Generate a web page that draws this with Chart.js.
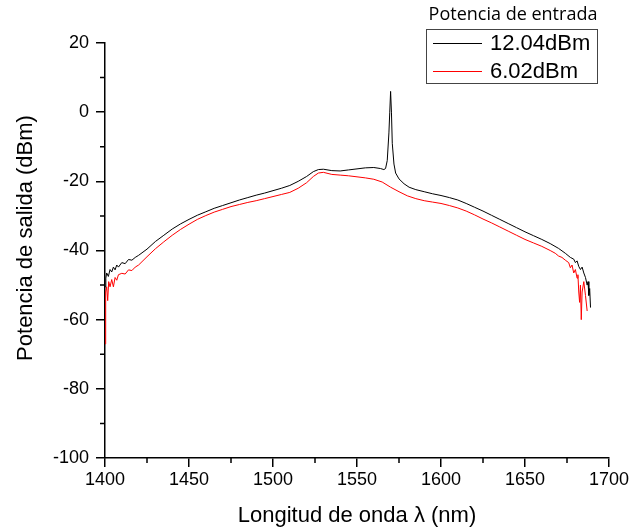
<!DOCTYPE html>
<html>
<head>
<meta charset="utf-8">
<script src="https://cdn.jsdelivr.net/npm/chart.js@4"></script>
<style>
  body { margin: 0; background: #fff; }
  #grafico { display: block; }
</style>
</head>
<body>
<canvas id="grafico" width="633" height="530"></canvas>
<script>
// ===============================
// Datos: espectro de salida
// ===============================
const etiquetas = ['12.04dBm', '6.02dBm'];
const colores = ['#000000', '#ff0000'];

const lambdaNegro = [
  1400, 1400.5, 1401, 1402, 1403, 1404, 1405, 1406, 1407, 1408, 1410, 1412, 1414, 1416, 1418, 1420,
  1425, 1430, 1435, 1440, 1445, 1450, 1455, 1460, 1465, 1470, 1475, 1480, 1485, 1490, 1495, 1500,
  1505, 1510, 1515, 1520, 1524, 1527, 1530, 1535, 1540, 1545, 1550, 1555, 1560, 1564, 1566, 1567,
  1568, 1569, 1569.5, 1570, 1570.5, 1571, 1572, 1573, 1575, 1578, 1581, 1585, 1590, 1595, 1600,
  1605, 1610, 1615, 1620, 1625, 1630, 1635, 1640, 1645, 1650, 1655, 1660, 1665, 1670, 1674, 1677,
  1679, 1680, 1681, 1682, 1683, 1684, 1685, 1686, 1687, 1687.5, 1688, 1688.5, 1689
];
const potNegro = [
  -50.5, -48, -46.5, -47.5, -45.5, -46.2, -44.8, -45.6, -44.2, -44.8, -43.5, -43.8, -42.6, -42.8, -42, -41.4,
  -39.6, -37.4, -35.6, -33.8, -32.3, -31, -29.8, -28.8, -27.8, -27, -26.2, -25.4, -24.7, -24, -23.4, -22.7,
  -22, -21.2, -20, -18.6, -17.2, -16.6, -16.5, -16.9, -17, -16.7, -16.4, -16.1, -16, -16.3, -16.6, -16.3,
  -14, -6, 0, 6, 0, -9, -15, -17.6, -19.3, -20.7, -21.7, -22.4, -23, -23.6, -24.1,
  -24.7, -25.4, -26.4, -27.5, -28.6, -29.8, -31, -32.2, -33.4, -34.6, -35.7, -36.8, -38, -39.4, -40.8, -42,
  -42.5, -43.5, -43, -44.6, -45.5, -44.8, -46.5, -47.8, -50, -49, -53, -51, -56.5
];

const lambdaRojo = [
  1400, 1400.4, 1401, 1401.6, 1402.2, 1403, 1404, 1405, 1406, 1407, 1408, 1410, 1412, 1414, 1416, 1418,
  1420, 1425, 1430, 1435, 1440, 1445, 1450, 1455, 1460, 1465, 1470, 1475, 1480, 1485, 1490, 1495,
  1500, 1505, 1510, 1515, 1520, 1524, 1527, 1530, 1535, 1540, 1545, 1550, 1555, 1560, 1565, 1570,
  1575, 1580, 1585, 1590, 1595, 1600, 1605, 1610, 1615, 1620, 1625, 1630, 1635, 1640, 1645, 1650,
  1655, 1660, 1665, 1668, 1670, 1672, 1674, 1676, 1677, 1678, 1679, 1680, 1681, 1681.5, 1682, 1682.5,
  1683, 1683.5, 1684, 1685, 1686, 1687
];
const potRojo = [
  -67, -52, -50.5, -54.5, -49, -50.5, -48.4, -50.5, -47.8, -48.6, -47, -46.6, -46.8, -45.6, -45.8, -44.8,
  -44.2, -41.8, -39.5, -37.5, -35.6, -33.9, -32.4, -31, -29.9, -28.9, -28.1, -27.3, -26.7, -26.1, -25.6, -25,
  -24.4, -23.8, -23.2, -22, -20.4, -18.6, -17.6, -17.4, -18, -18.2, -18.4, -18.7, -19, -19.4, -20.2, -21.7,
  -23, -24.2, -25, -25.6, -26, -26.4, -27, -27.7, -28.6, -29.7, -30.9, -32, -33.2, -34.4, -35.6, -36.8,
  -37.8, -38.8, -40, -40.8, -41.6, -42, -42.8, -43.5, -45, -44.2, -46.5, -45.5, -48, -47, -52, -55,
  -50, -60, -52, -49, -53, -57.5
];

const xMin = 1400, xMax = 1700;
const yMin = -100, yMax = 20;
const tituloY = 'Potencia de salida (dBm)';
const tituloLeyenda = 'Potencia de entrada';

function puntos(xs, ys) {
  return xs.map((x, i) => ({ x: x, y: ys[i] }));
}

// ===============================
// Plugin: ticks menores, titulo Y y leyenda con marco
// ===============================
const extras = {
  id: 'extras',
  beforeDraw(chart) {
    const c = chart.ctx;
    c.save();
    c.fillStyle = '#fff';
    c.fillRect(0, 0, chart.width, chart.height);
    c.restore();
  },
  afterDraw(chart) {
    const c = chart.ctx;
    const sx = chart.scales.x, sy = chart.scales.y;
    c.save();
    c.strokeStyle = '#000';
    c.lineWidth = 1.5;
    c.beginPath();
    sx.ticks.forEach(t => {
      if (t.value % 50 !== 0) {
        const px = sx.getPixelForValue(t.value);
        c.moveTo(px, sx.top);
        c.lineTo(px, sx.top + 5);
      }
    });
    sy.ticks.forEach(t => {
      if (t.value % 20 !== 0) {
        const py = sy.getPixelForValue(t.value);
        c.moveTo(sy.right, py);
        c.lineTo(sy.right - 5, py);
      }
    });
    c.stroke();

    // titulo del eje Y
    c.save();
    c.translate(26, 238);
    c.rotate(-Math.PI / 2);
    c.fillStyle = '#000';
    c.font = '22px "Liberation Sans"';
    c.textAlign = 'center';
    c.textBaseline = 'middle';
    c.fillText(tituloY, 0, 0);
    c.restore();

    // leyenda
    c.fillStyle = '#000';
    c.font = '18px "Open Sans"';
    c.textAlign = 'center';
    c.textBaseline = 'middle';
    c.fillText(tituloLeyenda, 513, 15);
    c.strokeStyle = '#444';
    c.lineWidth = 1;
    c.strokeRect(426.5, 29.5, 171, 54);
    c.textAlign = 'left';
    c.font = '22px "Liberation Sans"';
    chart.data.datasets.forEach((ds, i) => {
      const y = 43 + i * 28;
      c.strokeStyle = ds.borderColor;
      c.beginPath();
      c.moveTo(433, y + 0.5);
      c.lineTo(482, y + 0.5);
      c.stroke();
      c.fillStyle = '#000';
      c.fillText(ds.label, 490, y + 1);
    });
    c.restore();
  }
};

new Chart(document.getElementById('grafico'), {
  type: 'line',
  data: {
    datasets: [
      { label: etiquetas[0], data: puntos(lambdaNegro, potNegro), borderColor: colores[0], borderWidth: 1, pointRadius: 0, tension: 0 },
      { label: etiquetas[1], data: puntos(lambdaRojo, potRojo), borderColor: colores[1], borderWidth: 1, pointRadius: 0, tension: 0 }
    ]
  },
  options: {
    responsive: false,
    animation: false,
    events: [],
    layout: { padding: { top: 43, right: 24, left: 0, bottom: 0 } },
    plugins: { legend: { display: false }, tooltip: { enabled: false } },
    scales: {
      x: {
        type: 'linear',
        min: xMin, max: xMax,
        afterFit(s) { s.height = 72; },
        border: { color: '#000', width: 1.5 },
        grid: {
          drawOnChartArea: false, tickLength: 9, lineWidth: 1.5,
          tickColor: ctx => (ctx.tick && ctx.tick.value % 50 === 0) ? '#000' : 'transparent'
        },
        ticks: {
          stepSize: 25, padding: 2, color: '#000', maxRotation: 0, autoSkip: false,
          font: { family: '"Liberation Sans", Arial', size: 18 },
          callback: v => v % 50 === 0 ? v : ''
        },
        title: {
          display: true, text: 'Longitud de onda λ (nm)', color: '#000',
          font: { family: '"Liberation Sans", Arial', size: 22 },
          padding: { top: 0, bottom: 1 }
        }
      },
      y: {
        min: yMin, max: yMax,
        afterFit(s) { s.width = 105; },
        border: { color: '#000', width: 1.5 },
        grid: {
          drawOnChartArea: false, tickLength: 9, lineWidth: 1.5,
          tickColor: ctx => (ctx.tick && ctx.tick.value % 20 === 0) ? '#000' : 'transparent'
        },
        ticks: {
          stepSize: 10, padding: 7, color: '#000', autoSkip: false,
          font: { family: '"Liberation Sans", Arial', size: 18 },
          callback: v => v % 20 === 0 ? v : ''
        },
        title: { display: false }
      }
    }
  },
  plugins: [extras]
});
</script>
</body>
</html>
